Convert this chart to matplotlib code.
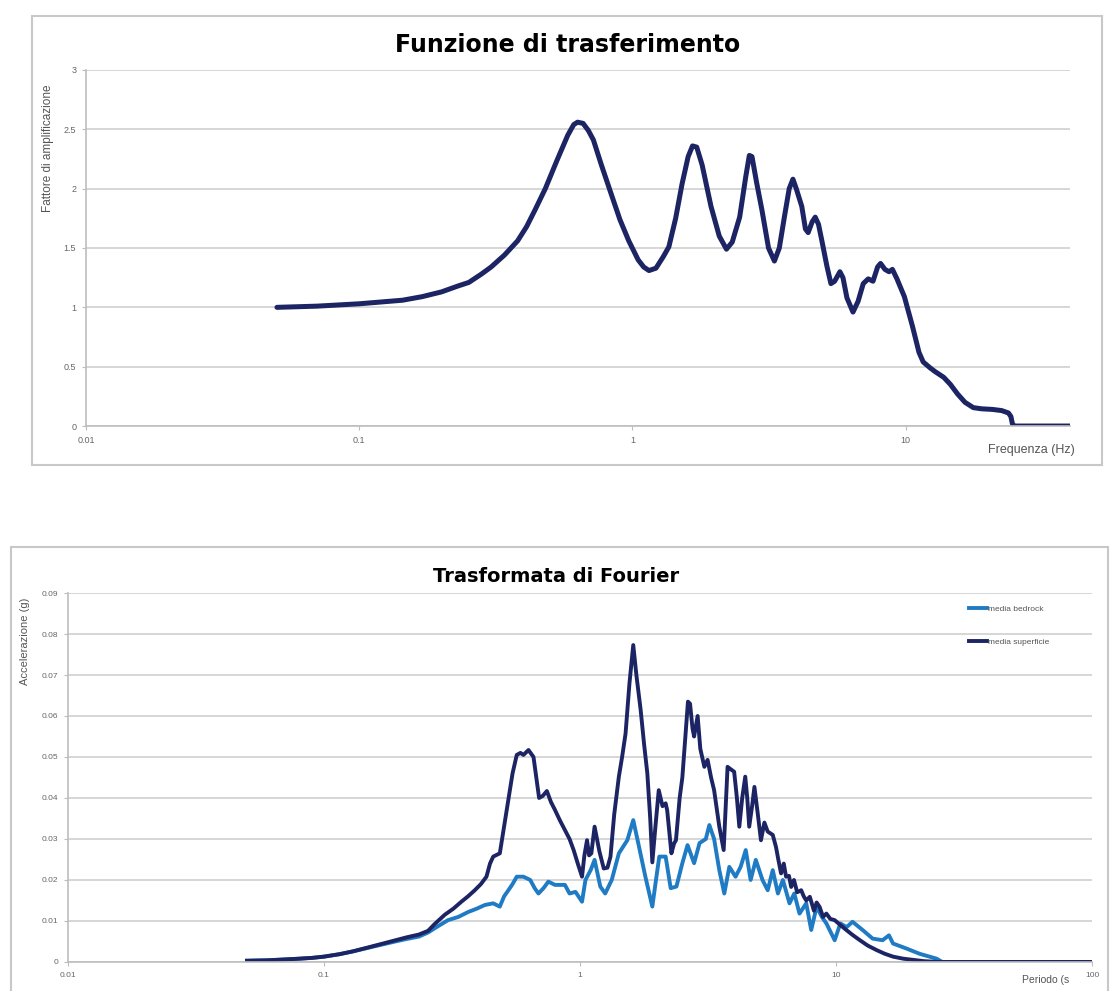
import matplotlib
matplotlib.use("Agg")
import matplotlib.pyplot as plt
from matplotlib.patches import Rectangle

# Funzione di trasferimento: frequenza (Hz) -> fattore di amplificazione
freq = [0.05, 0.07, 0.1, 0.12, 0.144, 0.17, 0.2, 0.23, 0.252, 0.28, 0.304, 0.34,
        0.38, 0.41, 0.44, 0.48, 0.53, 0.58, 0.61, 0.63, 0.66, 0.69, 0.72, 0.77,
        0.835, 0.9, 0.97, 1.05, 1.1, 1.15, 1.22, 1.3, 1.36, 1.44, 1.52, 1.6,
        1.66, 1.72, 1.8, 1.94, 2.08, 2.21, 2.32, 2.47, 2.6, 2.68, 2.74, 2.85,
        2.98, 3.15, 3.31, 3.45, 3.6, 3.75, 3.87, 3.98, 4.17, 4.3, 4.4, 4.55,
        4.67, 4.8, 4.94, 5.15, 5.33, 5.5, 5.75, 5.9, 6.1, 6.42, 6.7, 7.0, 7.3,
        7.6, 7.9, 8.1, 8.4, 8.7, 8.95, 9.3, 9.9, 10.6, 11.2, 11.6, 12.3, 12.8,
        13.8, 14.6, 15.5, 16.5, 17.7, 19.0, 20.8, 22.5, 23.8, 24.3, 24.6, 25.0,
        40.0]
ampl = [1.0, 1.01, 1.03, 1.045, 1.06, 1.09, 1.13, 1.18, 1.21, 1.28, 1.34, 1.44,
        1.56, 1.68, 1.82, 2.0, 2.24, 2.45, 2.54, 2.56, 2.55, 2.49, 2.41, 2.2,
        1.96, 1.74, 1.56, 1.40, 1.34, 1.31, 1.33, 1.43, 1.51, 1.75, 2.04, 2.27,
        2.36, 2.35, 2.2, 1.85, 1.6, 1.49, 1.55, 1.76, 2.1, 2.28, 2.27, 2.05,
        1.82, 1.5, 1.39, 1.5, 1.76, 2.0, 2.08, 2.0, 1.85, 1.66, 1.63, 1.72,
        1.76, 1.7, 1.56, 1.35, 1.2, 1.22, 1.30, 1.25, 1.08, 0.96, 1.05, 1.2, 1.24,
        1.22, 1.34, 1.37, 1.32, 1.30, 1.32, 1.24, 1.09, 0.84, 0.62, 0.54, 0.49, 0.46,
        0.41, 0.35, 0.27, 0.2, 0.155, 0.145, 0.14, 0.13, 0.11, 0.08, 0.02, 0.0,
        0.0]

# Trasformata di Fourier: periodo (s) -> accelerazione (g)
per_sup = [0.05, 0.06, 0.07, 0.08, 0.09, 0.1, 0.115, 0.13, 0.15, 0.17, 0.19, 0.21,
           0.235, 0.255, 0.27, 0.296, 0.32, 0.344, 0.365, 0.388, 0.41, 0.431, 0.445,
           0.458, 0.486, 0.505, 0.525, 0.545, 0.566, 0.585, 0.601, 0.629, 0.658,
           0.675, 0.692, 0.715, 0.742, 0.77, 0.798, 0.835, 0.873, 0.91, 0.944, 0.98,
           1.018, 1.04, 1.065, 1.085, 1.107, 1.14, 1.19, 1.238, 1.28, 1.315, 1.36,
           1.418, 1.46, 1.506, 1.56, 1.614, 1.66, 1.725, 1.78, 1.832, 1.88, 1.916,
           1.97, 2.03, 2.1, 2.16, 2.19, 2.275, 2.33, 2.37, 2.45, 2.51, 2.58, 2.64,
           2.69, 2.75, 2.79, 2.88, 2.95, 3.06, 3.15, 3.25, 3.34, 3.5, 3.64, 3.77,
           3.88, 4.0, 4.1, 4.19, 4.3, 4.42, 4.5, 4.58, 4.7, 4.8, 4.95, 5.09, 5.25,
           5.41, 5.66, 5.83, 5.95, 6.1, 6.25, 6.38, 6.55, 6.68, 6.85, 7.05, 7.31,
           7.48, 7.65, 7.9, 8.2, 8.4, 8.63, 8.9, 9.17, 9.5, 9.88, 10.4, 10.97, 11.6,
           12.4, 13.3, 14.4, 15.5, 16.7, 18.3, 20.0, 22.0, 25.0, 100.0]
acc_sup = [0.0003, 0.0004, 0.0006, 0.0008, 0.0010, 0.0013, 0.0019, 0.0026, 0.0036,
           0.0045, 0.0053, 0.006, 0.0067, 0.0076, 0.0092, 0.0115, 0.013, 0.0147,
           0.016, 0.0175, 0.019, 0.0208, 0.024, 0.0257, 0.0265, 0.033, 0.0395,
           0.046, 0.0505, 0.051, 0.0505, 0.0517, 0.050, 0.045, 0.040, 0.0405, 0.0417,
           0.039, 0.0371, 0.0345, 0.0322, 0.030, 0.0273, 0.024, 0.0208, 0.026,
           0.0297, 0.026, 0.0265, 0.033, 0.027, 0.0228, 0.023, 0.0257, 0.036,
           0.0452, 0.050, 0.0557, 0.068, 0.0773, 0.070, 0.0615, 0.053, 0.046, 0.035,
           0.0243, 0.033, 0.0419, 0.038, 0.0387, 0.037, 0.0265, 0.0289, 0.0297,
           0.040, 0.045, 0.055, 0.0635, 0.063, 0.057, 0.055, 0.060, 0.052, 0.0476,
           0.0493, 0.045, 0.0419, 0.033, 0.0273, 0.0476, 0.047, 0.0464, 0.040,
           0.033, 0.040, 0.0452, 0.040, 0.033, 0.038, 0.0427, 0.036, 0.0297, 0.034,
           0.0318, 0.031, 0.028, 0.025, 0.0216, 0.024, 0.0208, 0.021, 0.0183, 0.020,
           0.017, 0.0175, 0.016, 0.015, 0.0159, 0.0125, 0.0145, 0.0134, 0.011,
           0.0118, 0.0105, 0.0102, 0.009, 0.0078, 0.0066, 0.0053, 0.004, 0.0029,
           0.002, 0.0013, 0.0008, 0.0005, 0.0002, 0.0, 0.0]

per_bed = [0.05, 0.06, 0.07, 0.08, 0.09, 0.1, 0.115, 0.13, 0.15, 0.17, 0.19, 0.21,
           0.235, 0.255, 0.28, 0.305, 0.335, 0.366, 0.395, 0.425, 0.458, 0.486,
           0.505, 0.525, 0.545, 0.566, 0.601, 0.639, 0.665, 0.688, 0.72, 0.752,
           0.798, 0.873, 0.91, 0.96, 1.018, 1.05, 1.10, 1.14, 1.2, 1.254, 1.33,
           1.418, 1.53, 1.614, 1.70, 1.80, 1.916, 1.98, 2.04, 2.16, 2.26, 2.38,
           2.51, 2.63, 2.79, 2.93, 3.10, 3.2, 3.34, 3.5, 3.66, 3.83, 4.05, 4.24,
           4.44, 4.64, 4.86, 5.16, 5.41, 5.66, 5.93, 6.2, 6.58, 6.87, 7.2, 7.65,
           8.0, 8.4, 8.8, 9.17, 9.88, 10.4, 11.0, 11.6, 12.7, 13.9, 15.2, 16.1,
           16.7, 18.8, 21.2, 24.7, 26.0, 100.0]
acc_bed = [0.0003, 0.0004, 0.0006, 0.0008, 0.001, 0.0013, 0.0019, 0.0026, 0.0035,
           0.0043, 0.005, 0.0056, 0.0062, 0.0072, 0.0088, 0.0102, 0.011, 0.0122,
           0.013, 0.0139, 0.0143, 0.0135, 0.016, 0.0175, 0.019, 0.0208, 0.0208,
           0.020, 0.018, 0.0167, 0.018, 0.0196, 0.0188, 0.0188, 0.0167, 0.0171,
           0.0147, 0.020, 0.0224, 0.0249, 0.0184, 0.0167, 0.020, 0.0265, 0.0297,
           0.0346, 0.0281, 0.0208, 0.0135, 0.020, 0.0257, 0.0257, 0.018, 0.0184,
           0.0241, 0.0285, 0.0241, 0.029, 0.030, 0.0334, 0.030, 0.0224, 0.0167,
           0.0232, 0.0208, 0.0232, 0.0273, 0.02, 0.0249, 0.02, 0.0175, 0.0224,
           0.0167, 0.02, 0.0143, 0.0167, 0.0118, 0.0143, 0.0078, 0.0135, 0.011,
           0.0094, 0.0053, 0.0094, 0.0085, 0.0098, 0.0078, 0.0057, 0.0053, 0.0065,
           0.0045, 0.0033, 0.002, 0.0008, 0.0, 0.0]

amp_ticks = [0, 0.5, 1, 1.5, 2, 2.5, 3]
amp_labels = ["0", "0.5", "1", "1.5", "2", "2.5", "3"]
acc_ticks = [0, 0.01, 0.02, 0.03, 0.04, 0.05, 0.06, 0.07, 0.08, 0.09]
acc_labels = ["0", "0.01", "0.02", "0.03", "0.04", "0.05", "0.06", "0.07", "0.08", "0.09"]
log_ticks = [0.01, 0.1, 1, 10, 100]
log_labels = ["0.01", "0.1", "1", "10", "100"]

dark = "#1c2463"
light = "#1f7bc4"
grid = "#d3d3d3"

plt.rcParams['font.family'] = ['Liberation Sans', 'DejaVu Sans']

fig = plt.figure(figsize=(11.1, 9.91), dpi=100)

# cornici dei due grafici
fig.patches.append(Rectangle((0.0288, 0.5308), 0.964, 0.453, transform=fig.transFigure,
                             fill=False, edgecolor="#c8c8c8", linewidth=1.5))
fig.patches.append(Rectangle((0.0099, -0.02), 0.988, 0.468, transform=fig.transFigure,
                             fill=False, edgecolor="#c8c8c8", linewidth=1.5))


def style_axes(ax, size):
    ax.set_xscale("log")
    for s in ("top", "right"):
        ax.spines[s].set_visible(False)
    for s in ("left", "bottom"):
        ax.spines[s].set_color("#bdbdbd")
        ax.spines[s].set_linewidth(1.2)
    ax.grid(axis="y", color=grid, linewidth=1.3)
    ax.set_axisbelow(True)
    ax.minorticks_off()
    ax.tick_params(axis="both", length=3, color="#bdbdbd", labelsize=size,
                   labelcolor="#666666", pad=4)


# --- Funzione di trasferimento ---
ax1 = fig.add_axes([0.0775, 0.5701, 0.8865, 0.3593])
ax1.plot(freq, ampl, color=dark, linewidth=3.6, solid_capstyle="round")
style_axes(ax1, 6.5)
ax1.set_xlim(0.01, 40)
ax1.set_ylim(0, 3)
ax1.set_yticks(amp_ticks)
ax1.set_yticklabels(amp_labels)
ax1.set_xticks(log_ticks[:4])
ax1.set_xticklabels(log_labels[:4])
fig.text(0.511, 0.9546, "Funzione di trasferimento", family="DejaVu Sans",
         fontweight="bold", fontsize=17, ha="center", va="center")
fig.text(0.0435, 0.85, "Fattore di amplificazione", rotation=90, fontsize=8.5,
         color="#555555", ha="center", va="center")
fig.text(0.968, 0.546, "Frequenza (Hz)", fontsize=9, color="#555555",
         ha="right", va="center")

# --- Trasformata di Fourier ---
ax2 = fig.add_axes([0.0613, 0.0293, 0.9225, 0.3723])
ax2.plot(per_bed, acc_bed, color=light, linewidth=2.8, label="media bedrock")
ax2.plot(per_sup, acc_sup, color=dark, linewidth=2.8, label="media superficie")
style_axes(ax2, 6)
ax2.set_xlim(0.01, 100)
ax2.set_ylim(0, 0.09)
ax2.set_yticks(acc_ticks)
ax2.set_yticklabels(acc_labels)
ax2.set_xticks(log_ticks)
ax2.set_xticklabels(log_labels)
ax2.legend(loc="upper left", bbox_to_anchor=(0.866, 0.397), bbox_transform=fig.transFigure,
           frameon=False, fontsize=6, handlelength=2.2, handletextpad=0.1,
           labelspacing=3.0, labelcolor="#555555")
fig.text(0.501, 0.4178, "Trasformata di Fourier", family="DejaVu Sans",
         fontweight="bold", fontsize=14, ha="center", va="center")
fig.text(0.0225, 0.353, "Accelerazione (g)", rotation=90, fontsize=8,
         color="#555555", ha="center", va="center")
fig.text(0.963, 0.011, "Periodo (s", fontsize=7.5, color="#555555",
         ha="right", va="center")

fig.savefig("out.png", dpi=100, facecolor="white")
